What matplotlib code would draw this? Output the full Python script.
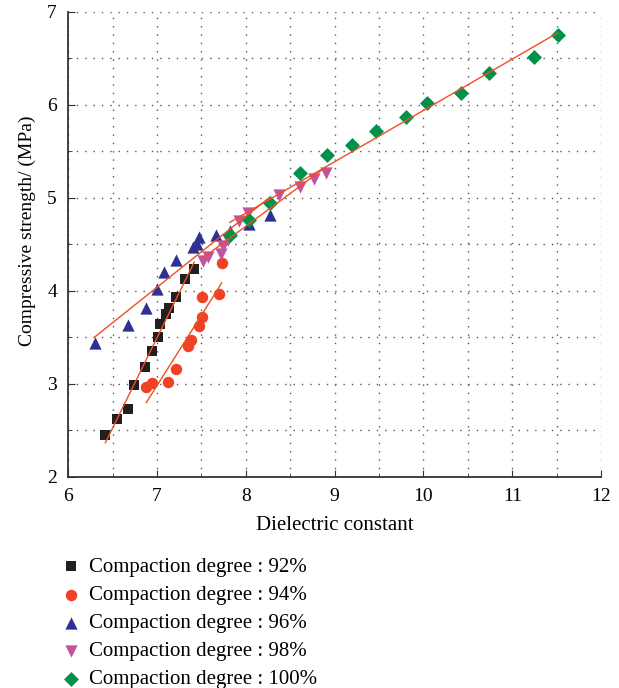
import matplotlib.pyplot as plt
import numpy as np

plt.rcParams['font.family'] = ['Liberation Serif', 'DejaVu Serif']

# Compaction degree 92%
x92 = [6.42, 6.55, 6.67, 6.74, 6.87, 6.95, 7.01, 7.04, 7.10, 7.14, 7.22, 7.32, 7.42]
y92 = [2.45, 2.62, 2.73, 2.99, 3.18, 3.36, 3.50, 3.65, 3.75, 3.82, 3.94, 4.13, 4.24]
# Compaction degree 94%
x94 = [6.88, 6.95, 7.13, 7.21, 7.35, 7.38, 7.47, 7.51, 7.51, 7.70, 7.73]
y94 = [2.97, 3.01, 3.02, 3.16, 3.41, 3.47, 3.62, 3.72, 3.93, 3.97, 4.30]
# Compaction degree 96%
x96 = [6.30, 6.68, 6.88, 7.00, 7.08, 7.22, 7.41, 7.45, 7.47, 7.67, 7.82, 8.04, 8.27]
y96 = [3.44, 3.63, 3.82, 4.02, 4.20, 4.33, 4.47, 4.51, 4.58, 4.60, 4.64, 4.72, 4.82]
# Compaction degree 98%
x98 = [7.52, 7.58, 7.72, 7.74, 7.80, 7.92, 8.03, 8.37, 8.61, 8.77, 8.90]
y98 = [4.32, 4.37, 4.40, 4.48, 4.55, 4.75, 4.84, 5.03, 5.12, 5.20, 5.27]
# Compaction degree 100%
x100 = [7.82, 8.04, 8.27, 8.61, 8.91, 9.20, 9.47, 9.80, 10.04, 10.42, 10.74, 11.24, 11.51]
y100 = [4.60, 4.76, 4.95, 5.27, 5.46, 5.57, 5.72, 5.87, 6.02, 6.13, 6.34, 6.52, 6.75]

labels = ['Compaction degree : 92%', 'Compaction degree : 94%', 'Compaction degree : 96%',
          'Compaction degree : 98%', 'Compaction degree : 100%']
series = [(x92, y92), (x94, y94), (x96, y96), (x98, y98), (x100, y100)]
colors = ['#231f20', '#ef4123', '#2e3192', '#c2549f', '#00924a']
markers = ['s', 'o', '^', 'v', 'D']
sizes = [50, 68, 78, 78, 58]

fig = plt.figure(figsize=(6.19, 6.88), dpi=100)
ax = fig.add_axes([0.110, 0.3067, 0.861, 0.6759])

for (xs, ys), c, m, s, lab in zip(series, colors, markers, sizes, labels):
    ax.scatter(xs, ys, color=c, marker=m, s=s, linewidths=0, label=lab, zorder=3)

# linear fits
for xs, ys in series:
    k, b = np.polyfit(xs, ys, 1)
    xx = np.array([min(xs), max(xs)])
    ax.plot(xx, k * xx + b, color='#f04e23', lw=1.0, zorder=4)

ax.set_xlim(6, 12)
ax.set_ylim(2, 7)
ax.set_xticks(np.arange(6, 12.1, 1))
ax.set_yticks(np.arange(2, 7.1, 1))
ax.set_xticks(np.arange(6, 12.1, 0.5), minor=True)
ax.set_yticks(np.arange(2, 7.1, 0.5), minor=True)
ax.grid(True, which='both', color='#555555', linestyle=(0, (1, 5)), lw=1.0)
ax.tick_params(which='both', direction='in', labelsize=14, pad=8, color='#333333')
ax.tick_params(which='major', length=5)
ax.tick_params(which='minor', length=3)
ax.spines['top'].set_visible(False)
ax.spines['right'].set_visible(False)
for sp in ['left', 'bottom']:
    ax.spines[sp].set_color('#333333')
    ax.spines[sp].set_linewidth(1.3)

ax.set_xlabel('Dielectric constant', fontsize=15, labelpad=8)
ax.set_ylabel('Compressive strength/ (MPa)', fontsize=14)
ax.yaxis.set_label_coords(-0.06, 0.53)

handles, labs = ax.get_legend_handles_labels()
fig.legend(handles, labs, loc='upper left', bbox_to_anchor=(0.098, 0.19),
           frameon=False, fontsize=15, labelspacing=0.41, handletextpad=0.35,
           handlelength=1.0, borderaxespad=0, borderpad=0)

plt.savefig('out.png', dpi=100)
